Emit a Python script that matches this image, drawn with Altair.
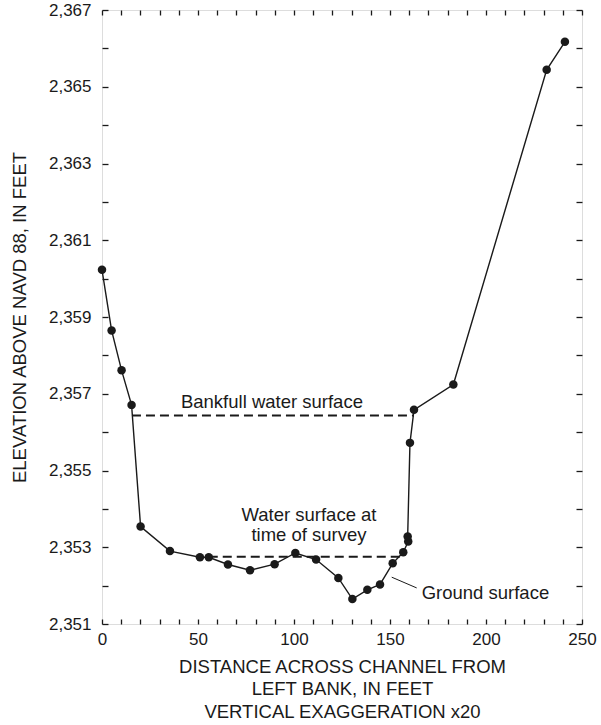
import altair as alt
import pandas as pd

# Surveyed cross-section: distance from left bank (ft) and ground elevation (ft, NAVD 88)
distance = [0.0, 5.0, 10.2, 15.4, 20.1, 35.4, 51.0, 55.6, 65.6, 77.1, 89.9,
            100.7, 111.5, 123.1, 130.4, 138.2, 144.8, 151.4, 156.9, 159.5,
            159.2, 160.4, 162.5, 183.0, 231.6, 241.1]
elevation = [2360.23, 2358.65, 2357.61, 2356.71, 2353.54, 2352.90, 2352.74,
             2352.74, 2352.55, 2352.40, 2352.56, 2352.85, 2352.68, 2352.20,
             2351.65, 2351.89, 2352.03, 2352.58, 2352.87, 2353.15, 2353.28,
             2355.72, 2356.58, 2357.24, 2365.44, 2366.17]

# Water surfaces (dashed): start, end, elevation
surface_name = ["Bankfull", "Survey"]
surface_start = [15.6, 55.6]
surface_end = [162.5, 155.3]
surface_elev = [2356.43, 2352.75]

# Annotation text
note_text = ["Bankfull water surface", "Water surface at", "time of survey", "Ground surface"]
note_x = [88.5, 107.8, 107.8, 166.5]
note_y = [2356.64, 2353.69, 2353.15, 2351.65]
note_align = ["center", "center", "center", "left"]

# Leader line to the ground-surface label
leader_x = [150.9]
leader_x2 = [163.9]
leader_y = [2352.22]
leader_y2 = [2351.94]

x_ticks = list(range(0, 251, 10))
y_ticks = list(range(2351, 2368))

FONT = "Liberation Sans"
INK = "#1a1a1a"
TEXT_SIZE = 18.5

profile = pd.DataFrame({"distance": distance, "elevation": elevation})
surfaces = pd.DataFrame({"name": surface_name, "x1": surface_start,
                         "x2": surface_end, "y": surface_elev})
notes = pd.DataFrame({"text": note_text, "x": note_x, "y": note_y, "align": note_align})
leader = pd.DataFrame({"x": leader_x, "x2": leader_x2, "y": leader_y, "y2": leader_y2})

x_scale = alt.Scale(domain=[0, 250], nice=False, zero=False)
y_scale = alt.Scale(domain=[2351, 2367], nice=False, zero=False)

axis_common = dict(domain=False, grid=False, tickColor=INK, tickWidth=1.3,
                   labelFont=FONT, labelFontSize=17, labelColor=INK,
                   labelFlush=False,
                   titleFont=FONT, titleFontSize=TEXT_SIZE, titleColor=INK,
                   titleFontWeight="normal", labelOverlap=False)

# Ticks point inward: each axis is pulled inside the frame by its tick length
x_bottom = alt.Axis(orient="bottom", values=x_ticks, tickSize=5, offset=-5,
                    labelExpr="datum.value % 50 == 0 ? datum.label : ''",
                    labelPadding=7, format="d",
                    title=["DISTANCE ACROSS CHANNEL FROM", "LEFT BANK, IN FEET",
                           "VERTICAL EXAGGERATION x20"],
                    titleLineHeight=22.5, titlePadding=10, **axis_common)
y_left = alt.Axis(orient="left", values=y_ticks, tickSize=6, offset=-6,
                  labelExpr="datum.value % 2 == 1 ? datum.label : ''",
                  format=",d", labelPadding=11,
                  title="ELEVATION ABOVE NAVD 88, IN FEET", titlePadding=19,
                  **axis_common)
x_top = alt.Axis(orient="top", values=x_ticks, tickSize=5, offset=-5,
                 labels=False, title=None, **axis_common)
y_right = alt.Axis(orient="right", values=y_ticks, tickSize=6, offset=-6,
                   labels=False, title=None, **axis_common)

ground_line = alt.Chart(profile).mark_line(color=INK, strokeWidth=1.4).encode(
    x=alt.X("distance:Q", scale=x_scale, axis=x_bottom),
    y=alt.Y("elevation:Q", scale=y_scale, axis=y_left),
    order="index:Q",
).transform_window(index="row_number()")

ground_points = alt.Chart(profile).mark_point(
    filled=True, color=INK, size=72, opacity=1, shape="circle"
).encode(
    x=alt.X("distance:Q", scale=x_scale, axis=x_top),
    y=alt.Y("elevation:Q", scale=y_scale, axis=y_right),
)

water = alt.Chart(surfaces).mark_rule(
    color=INK, strokeWidth=2, strokeDash=[9, 5]
).encode(
    x=alt.X("x1:Q", scale=x_scale, axis=None),
    x2="x2:Q",
    y=alt.Y("y:Q", scale=y_scale, axis=None),
)

leader_line = alt.Chart(leader).mark_rule(color=INK, strokeWidth=1).encode(
    x=alt.X("x:Q", scale=x_scale, axis=None),
    x2="x2:Q",
    y=alt.Y("y:Q", scale=y_scale, axis=None),
    y2="y2:Q",
)

def note_layer(align):
    return alt.Chart(notes).transform_filter(
        alt.datum.align == align
    ).mark_text(
        font=FONT, fontSize=TEXT_SIZE, color=INK, align=align, baseline="alphabetic"
    ).encode(
        x=alt.X("x:Q", scale=x_scale, axis=None),
        y=alt.Y("y:Q", scale=y_scale, axis=None),
        text="text:N",
    )

chart = alt.layer(
    ground_line, ground_points, water, leader_line,
    note_layer("center"), note_layer("left"),
).resolve_axis(
    x="independent", y="independent"
).properties(
    width=480, height=614,
    autosize=alt.AutoSizeParams(type="none"),
    padding={"left": 102, "top": 10, "right": 19, "bottom": 101},
).configure_view(
    stroke="#333333", strokeWidth=1.8
).configure(background="white")

chart.save("out.html", embed_options={"renderer": "svg", "actions": False})
